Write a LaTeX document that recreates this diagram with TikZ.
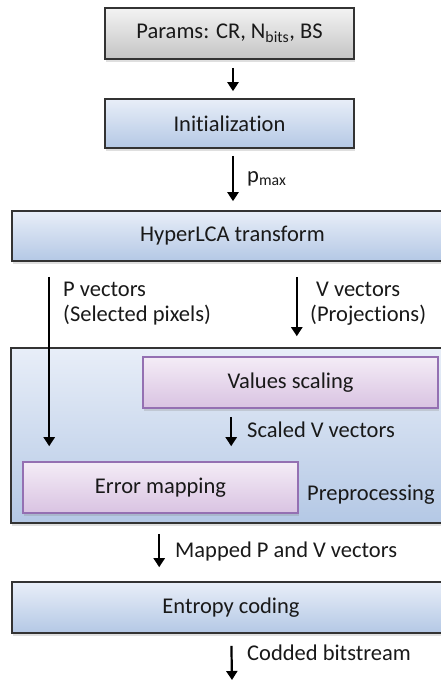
\documentclass[tikz,border=0pt]{standalone}
\usepackage{fontspec}
\setmainfont{Carlito}[Ligatures=NoCommon]
\usetikzlibrary{arrows.meta, shadows, positioning}
\usepackage{xcolor}

\definecolor{grytop}{HTML}{F3F3F3}
\definecolor{grybot}{HTML}{C4C4C4}
\definecolor{blutop}{HTML}{E8EEF8}
\definecolor{blubot}{HTML}{B4C8E5}
\definecolor{purtop}{HTML}{F4ECF6}
\definecolor{purbot}{HTML}{D9C3E2}
\definecolor{purline}{HTML}{9470B2}

\tikzset{
	blk/.style={draw=black!80, line width=1.6pt, inner sep=0pt, text=black!90,
		drop shadow={shadow xshift=0.8pt, shadow yshift=-2.5pt, opacity=0.25}},
	gryblk/.style={blk, top color=grytop, bottom color=grybot},
	blublk/.style={blk, top color=blutop, bottom color=blubot},
	purblk/.style={blk, draw=purline, top color=purtop, bottom color=purbot},
	flow/.style={-{Triangle[length=9pt, width=11pt]}, line width=2.2pt},
	lbl/.style={inner sep=0pt, anchor=base west, text=black!90}
}

\begin{document}
\begin{tikzpicture}[x=1pt, y=-1pt, font=\fontsize{22.5}{25}\selectfont]
		\path[use as bounding box] (0,0) rectangle (441,681);
		\clip (0,0) rectangle (441,681);

		\draw (229.5,33.5) node[gryblk, minimum width=249pt, minimum height=51pt] (params) {Params: CR, N\textsubscript{bits}, BS}
		(229.5,123.5) node[blublk, minimum width=249pt, minimum height=49pt] (init) {Initialization}
		(232.5,236) node[blublk, minimum width=441pt, minimum height=50pt] (hyper) {HyperLCA transform}
		(232,435.5) node[blublk, minimum width=442pt, minimum height=175pt] (prep) {}
		(290.5,382.5) node[purblk, minimum width=295pt, minimum height=51pt] (scal) {Values scaling}
		(160.5,487.5) node[purblk, minimum width=275pt, minimum height=51pt] (errmap) {Error mapping}
		(231,607.5) node[blublk, minimum width=438pt, minimum height=51pt] (entr) {Entropy coding};

		\coordinate (out) at (232,680);

		\draw[flow, shorten <=8pt, shorten >=7pt] ([xshift=3.5pt]params.south) -- ([xshift=3.5pt]init.north);
		\draw[flow, shorten <=7pt, shorten >=9pt] ([xshift=3.5pt]init.south) -- ([xshift=0.5pt]hyper.north);
		\draw[flow, shorten <=15pt, shorten >=15pt] ([xshift=38pt]hyper.south west) -- ([xshift=27pt]errmap.north west);
		\draw[flow, shorten <=15pt, shorten >=11pt] ([xshift=-157pt]hyper.south east) -- ([xshift=-157pt]prep.north east);
		\draw[flow, shorten <=8pt, shorten >=15pt] ([xshift=89pt]scal.south west) -- ([xshift=209pt]errmap.north west);
		\draw[flow, shorten <=10pt, shorten >=14pt] ([xshift=149pt]prep.south west) -- ([xshift=148pt]entr.north west);
		\draw[flow, shorten <=12pt] ([xshift=220pt]entr.south west) -- (out);

		\node[lbl] (pmax) at (247,182) {p\textsubscript{max}};
		\node[lbl, align=left] (pvec) at (63,321) {P vectors\\(Selected pixels)};
		\node[lbl, align=left] (vvec) at (310,321) {\hspace{6pt}V vectors\\(Projections)};
		\node[lbl] (svec) at (247,437) {Scaled V vectors};
		\node[lbl] (preplbl) at (307,500) {Preprocessing};
		\node[lbl] (mvec) at (175,557) {Mapped P and V vectors};
		\node[lbl] (bits) at (247,660) {Codded bitstream};
	\end{tikzpicture}
\end{document}
